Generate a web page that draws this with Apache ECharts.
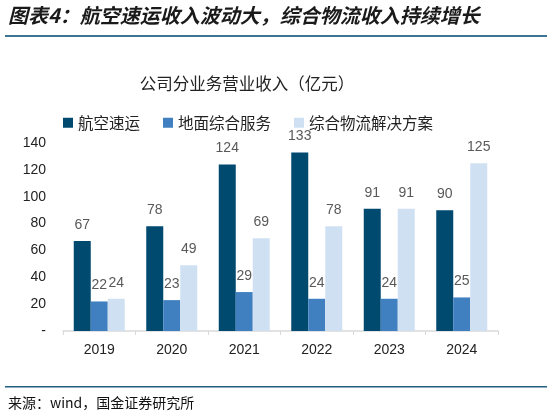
<!DOCTYPE html>
<html>
<head>
<meta charset="utf-8">
<script src="https://cdn.jsdelivr.net/npm/echarts@6/dist/echarts.min.js"></script>
<style>
html, body { margin: 0; padding: 0; background: #fff; }
#chart { width: 547px; height: 418px; }
</style>
</head>
<body>
<div id="chart"></div>
<script>
var years = ['2019', '2020', '2021', '2022', '2023', '2024'];
var airExpress = [67, 78, 124, 133, 91, 90];
var groundService = [22, 23, 29, 24, 24, 25];
var logistics = [24, 49, 69, 78, 91, 125];
var seriesNames = ['航空速运', '地面综合服务', '综合物流解决方案'];

var cjk = '"Noto Sans CJK SC", sans-serif';
var latin = 'Arial, "Liberation Sans", sans-serif';

var labelStyle = {
	show: true,
	position: 'top',
	distance: 9,
	color: '#595959',
	fontSize: 14,
	fontFamily: latin
};

var makeBar = function(name, data, color) {
	return {
		name: name,
		type: 'bar',
		data: data,
		barWidth: 17,
		barGap: '0%',
		itemStyle: { color: color },
		label: labelStyle
	};
};

var chart = echarts.init(document.getElementById('chart'));
chart.setOption({
	animation: false,
	title: {
		text: '公司分业务营业收入（亿元）',
		left: 242,
		textAlign: 'center',
		top: 70,
		textStyle: {
			fontSize: 16.5,
			fontWeight: 'normal',
			color: '#222',
			fontFamily: cjk
		}
	},
	legend: {
		data: seriesNames,
		top: 110,
		left: 58,
		width: 480,
		itemWidth: 10,
		itemHeight: 10,
		itemGap: 23,
		icon: 'rect',
		textStyle: {
			fontSize: 15.5,
			color: '#222',
			fontFamily: cjk
		}
	},
	grid: {
		left: 63,
		right: 49,
		top: 143,
		bottom: 87
	},
	xAxis: [{
		type: 'category',
		data: years,
		axisLine: { lineStyle: { color: '#d9d9d9', width: 1.5 } },
		axisTick: { show: true, length: 4, lineStyle: { color: '#d9d9d9' } },
		axisLabel: {
			color: '#222',
			fontSize: 14,
			fontFamily: latin,
			margin: 12
		}
	}],
	yAxis: [{
		type: 'value',
		min: 0,
		max: 140,
		interval: 20,
		splitLine: { show: false },
		axisLine: { show: false },
		axisTick: { show: false },
		axisLabel: {
			color: '#222',
			fontSize: 14,
			fontFamily: latin,
			margin: 17,
			formatter: function(v) {
				return v === 0 ? '-' : v;
			}
		}
	}],
	series: [
		makeBar(seriesNames[0], airExpress, '#004a70'),
		makeBar(seriesNames[1], groundService, '#4080c0'),
		makeBar(seriesNames[2], logistics, '#cfe0f2')
	],
	graphic: [
		{
			type: 'text',
			left: 8,
			top: 5,
			style: {
				text: '图表4：航空速运收入波动大，综合物流收入持续增长',
				fontSize: 20,
				fontWeight: 'bold',
				fontStyle: 'italic',
				fill: '#1a1a1a',
				fontFamily: cjk
			}
		},
		{
			type: 'rect',
			shape: { x: 5, y: 35, width: 542, height: 2 },
			style: { fill: '#3a7594' }
		},
		{
			type: 'rect',
			shape: { x: 5, y: 386, width: 542, height: 1.5 },
			style: { fill: '#1f5f80' }
		},
		{
			type: 'text',
			left: 8,
			top: 396,
			style: {
				text: '来源：wind，国金证券研究所',
				fontSize: 14,
				fill: '#111',
				fontFamily: cjk
			}
		}
	]
});
</script>
</body>
</html>
